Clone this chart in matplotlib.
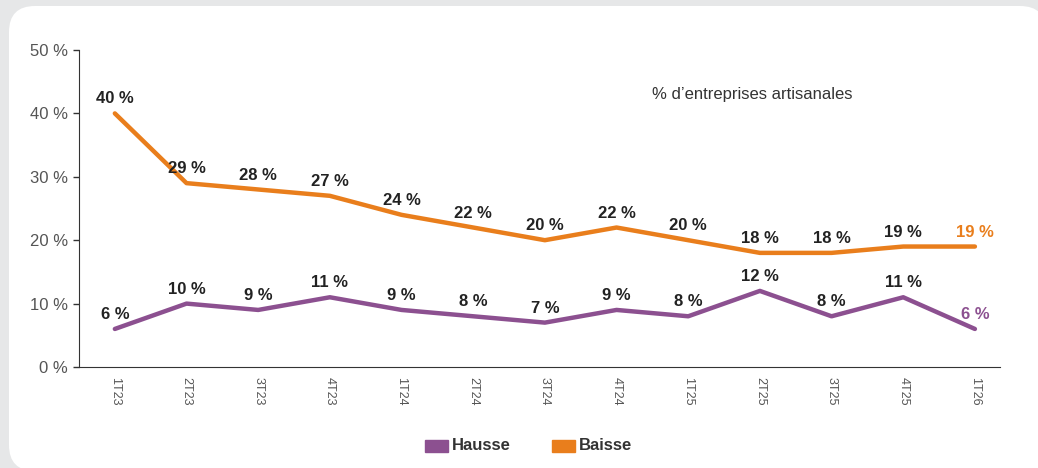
import matplotlib
matplotlib.use("Agg")
import matplotlib.pyplot as plt
from matplotlib.patches import FancyBboxPatch, Rectangle
from matplotlib.transforms import IdentityTransform
import numpy as np

plt.rcParams['font.family'] = ['Liberation Sans', 'DejaVu Sans']

# quarters and shares of craft businesses (%)
quarters = ['1T23', '2T23', '3T23', '4T23', '1T24', '2T24', '3T24',
            '4T24', '1T25', '2T25', '3T25', '4T25', '1T26']
hausse = [6, 10, 9, 11, 9, 8, 7, 9, 8, 12, 8, 11, 6]
baisse = [40, 29, 28, 27, 24, 22, 20, 22, 20, 18, 18, 19, 19]

purple = '#8c5090'
orange = '#e97e1c'

W, H = 1038, 468
fig = plt.figure(figsize=(W / 100, H / 100), dpi=100)
fig.patch.set_facecolor('#e6e7e8')

# white rounded panel behind the chart (pixel coordinates)
px = IdentityTransform()
fig.patches.append(FancyBboxPatch((9, -3), 1046 - 9, H - 6 + 3,
                                  boxstyle="round,pad=0,rounding_size=26",
                                  transform=px, facecolor='white',
                                  edgecolor='none', zorder=-10))
fig.patches.append(Rectangle((900, -5), 200, 60, transform=px,
                             facecolor='white', edgecolor='none', zorder=-10))

ax = fig.add_axes([79 / W, 1 - 367 / H, 921 / W, 317 / H])
ax.set_facecolor('none')
ax.set_zorder(1)

x = np.arange(len(quarters))
ax.plot(x, baisse, color=orange, lw=3.2, solid_capstyle='round')
ax.plot(x, hausse, color=purple, lw=3.2, solid_capstyle='round')

ax.set_xlim(-0.5, 12.35)
ax.set_ylim(0, 50)

for i, v in enumerate(baisse):
    last = i == len(baisse) - 1
    ax.annotate(f'{v} %', (i, v), xytext=(0, 5), textcoords='offset points',
                ha='center', va='bottom', fontsize=12, fontweight='bold',
                color=orange if last else '#222222')
for i, v in enumerate(hausse):
    last = i == len(hausse) - 1
    ax.annotate(f'{v} %', (i, v), xytext=(0, 5), textcoords='offset points',
                ha='center', va='bottom', fontsize=12, fontweight='bold',
                color=purple if last else '#222222')

ax.set_yticks(range(0, 51, 10))
ax.set_yticklabels([f'{t} %' for t in range(0, 51, 10)])
ax.tick_params(axis='y', direction='out', length=4, width=1, color='#333333',
               labelsize=12, labelcolor='#555555', pad=4)
ax.set_xticks(x)
ax.set_xticklabels(quarters, rotation=-90)
ax.tick_params(axis='x', length=0, labelsize=9, labelcolor='#555555', pad=7)

for s in ['top', 'right']:
    ax.spines[s].set_visible(False)
ax.spines['left'].set_color('#333333')
ax.spines['bottom'].set_color('#333333')

ax.text(0.622, 0.86, '% d\u2019entreprises artisanales', transform=ax.transAxes,
        fontsize=12, color='#333333', ha='left', va='center')

# legend at the bottom
fig.patches.append(Rectangle((425 / W, 1 - 452 / H), 23 / W, 12 / H,
                             transform=fig.transFigure, color=purple))
fig.text(452 / W, 1 - 446 / H, 'Hausse', fontsize=12, fontweight='bold',
         color='#333333', va='center', ha='left')
fig.patches.append(Rectangle((552 / W, 1 - 452 / H), 23 / W, 12 / H,
                             transform=fig.transFigure, color=orange))
fig.text(579 / W, 1 - 446 / H, 'Baisse', fontsize=12, fontweight='bold',
         color='#333333', va='center', ha='left')

fig.savefig('out.png', dpi=100, facecolor=fig.get_facecolor())
